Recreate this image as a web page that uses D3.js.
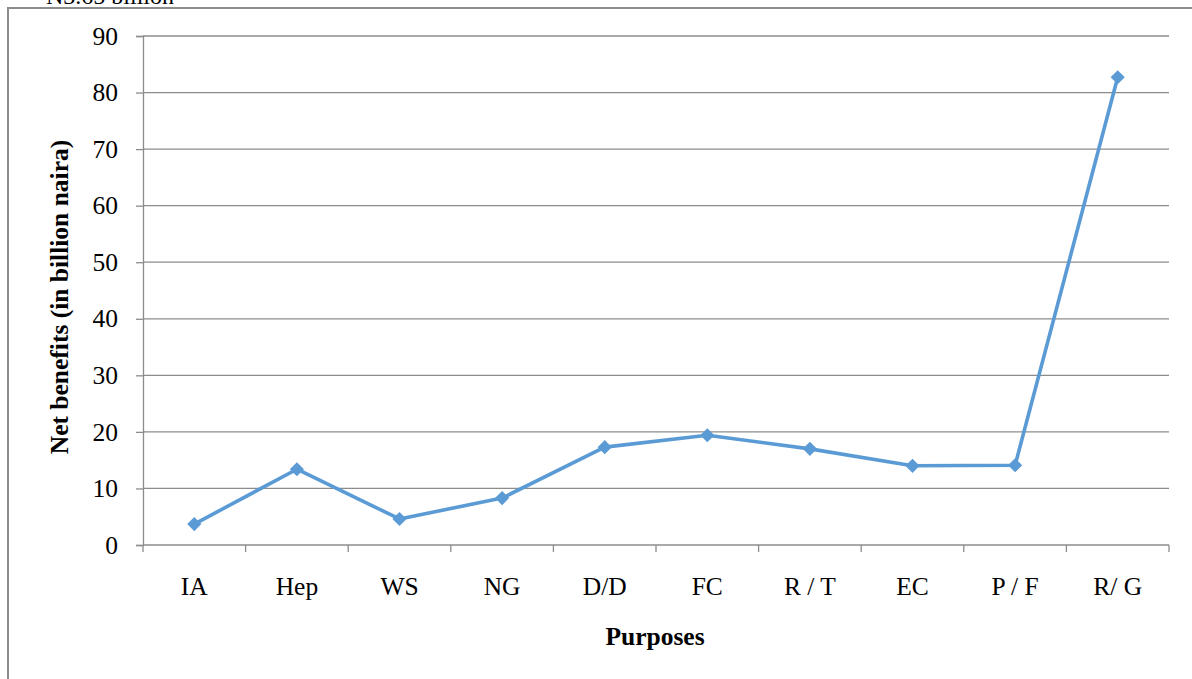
<!DOCTYPE html>
<html>
<head>
<meta charset="utf-8">
<script src="https://cdn.jsdelivr.net/npm/d3@7/dist/d3.min.js"></script>
<style>
  html, body { margin: 0; padding: 0; background: #fff; }
  svg { display: block; }
  text { font-family: "Liberation Serif", "Times New Roman", serif; fill: #000; }
</style>
</head>
<body>
<svg id="chart" width="1192" height="679"></svg>
<script>
// Net benefits by purpose (billion naira)
const categories = ["IA", "Hep", "WS", "NG", "D/D", "FC", "R / T", "EC", "P / F", "R/ G"];
const netBenefits = [3.7, 13.4, 4.6, 8.3, 17.3, 19.4, 17.0, 14.0, 14.1, 82.7];
const yTicks = [0, 10, 20, 30, 40, 50, 60, 70, 80, 90];

const svg = d3.select("#chart");
const margin = { left: 143, right: 1169, top: 36, bottom: 545 };
const FS = 25.5;

// Frame of the chart area (top and left edges visible)
svg.append("path")
  .attr("d", "M8,679 L8,8 L1192,8")
  .attr("fill", "none")
  .attr("stroke", "#8c8c8c")
  .attr("stroke-width", 2);

// Text partly cut off above the frame
svg.append("text")
  .attr("x", 46).attr("y", 4)
  .attr("font-size", 24)
  .text("N3.65 billion");

const x = d3.scaleBand().domain(categories).range([margin.left, margin.right]).padding(0);
const y = d3.scaleLinear().domain([0, 90]).range([margin.bottom, margin.top]);

// Horizontal gridlines
svg.append("g")
  .selectAll("line")
  .data(yTicks.filter(d => d > 0))
  .join("line")
  .attr("x1", margin.left).attr("x2", margin.right)
  .attr("y1", d => y(d)).attr("y2", d => y(d))
  .attr("stroke", "#8c8c8c").attr("stroke-width", 1.3);

// Y axis
const yAxis = svg.append("g")
  .attr("transform", `translate(${margin.left},0)`)
  .call(d3.axisLeft(y).tickValues(yTicks).tickSize(7).tickPadding(18).tickFormat(d3.format("d")));
yAxis.select(".domain").attr("stroke", "#8c8c8c").attr("stroke-width", 1.3);
yAxis.selectAll(".tick line").attr("stroke", "#8c8c8c").attr("stroke-width", 1.3);
yAxis.selectAll(".tick text")
  .attr("font-family", "Liberation Serif, serif")
  .attr("font-size", FS).attr("fill", "#000");

// X axis with ticks at category boundaries
const xAxisG = svg.append("g").attr("transform", `translate(0,${margin.bottom})`);
xAxisG.append("line")
  .attr("x1", margin.left).attr("x2", margin.right)
  .attr("stroke", "#8c8c8c").attr("stroke-width", 1.3);
const boundaries = categories.map(c => x(c)).concat([x(categories[categories.length - 1]) + x.bandwidth()]);
xAxisG.selectAll("line.tk")
  .data(boundaries)
  .join("line")
  .attr("class", "tk")
  .attr("x1", d => d).attr("x2", d => d)
  .attr("y1", 0).attr("y2", 7)
  .attr("stroke", "#8c8c8c").attr("stroke-width", 1.3);
xAxisG.selectAll("text")
  .data(categories)
  .join("text")
  .attr("x", d => x(d) + x.bandwidth() / 2)
  .attr("y", 50)
  .attr("text-anchor", "middle")
  .attr("font-size", FS)
  .text(d => d);

// Axis titles
svg.append("text")
  .attr("transform", "translate(68,297) rotate(-90)")
  .attr("text-anchor", "middle")
  .attr("font-size", FS).attr("font-weight", "bold")
  .text("Net benefits (in billion naira)");

svg.append("text")
  .attr("x", 655).attr("y", 645)
  .attr("text-anchor", "middle")
  .attr("font-size", FS).attr("font-weight", "bold")
  .text("Purposes");

// Series line
const color = "#5b9bd5";
const line = d3.line()
  .x((d, i) => x(categories[i]) + x.bandwidth() / 2)
  .y(d => y(d));
svg.append("path")
  .datum(netBenefits)
  .attr("d", line)
  .attr("fill", "none")
  .attr("stroke", color)
  .attr("stroke-width", 3.6)
  .attr("stroke-linejoin", "round");

// Diamond markers (squares turned 45 degrees)
const marker = d3.symbol().type(d3.symbolSquare).size(100);
svg.append("g")
  .selectAll("path")
  .data(netBenefits)
  .join("path")
  .attr("d", marker)
  .attr("transform", (d, i) => `translate(${x(categories[i]) + x.bandwidth() / 2},${y(d)}) rotate(45)`)
  .attr("fill", color);
</script>
</body>
</html>
